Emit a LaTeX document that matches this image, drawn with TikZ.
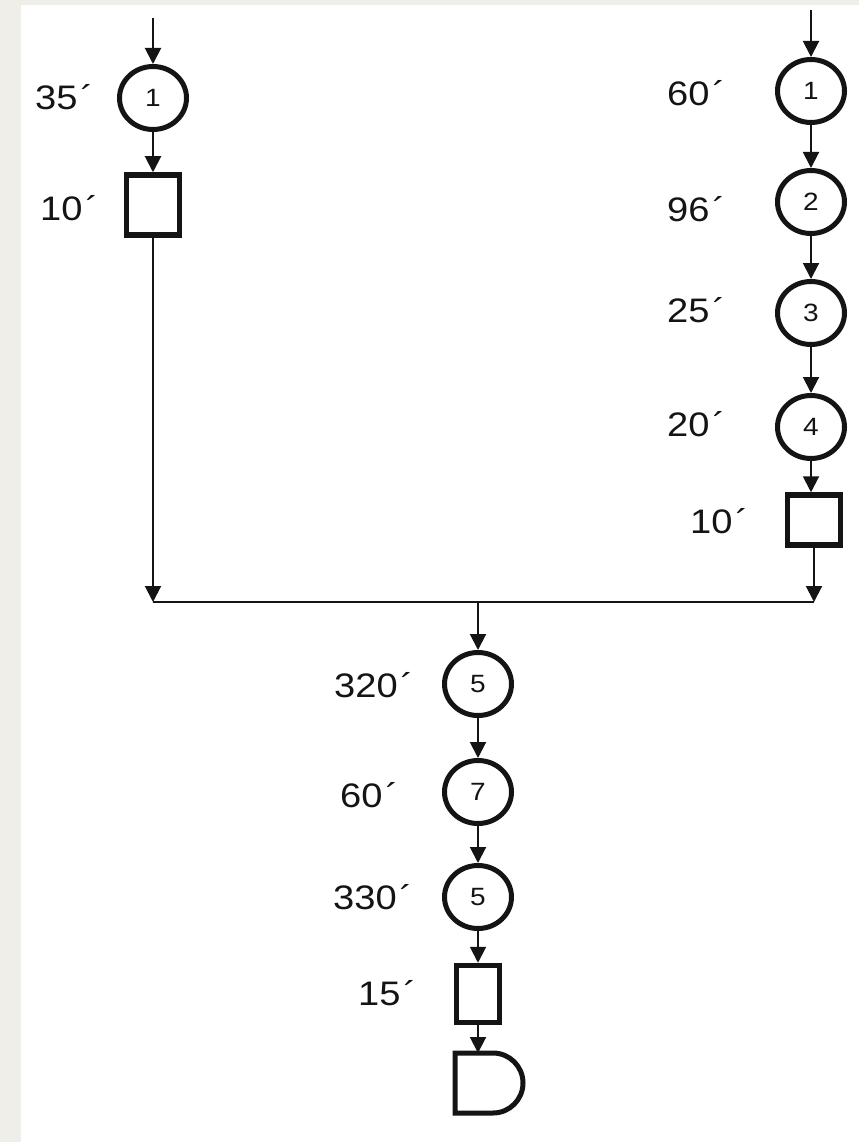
\documentclass[tikz,border=0pt]{standalone}
\usepackage{fontspec}
\setmainfont{Liberation Sans}[FakeStretch=1.12]
\usetikzlibrary{arrows.meta,shapes.geometric}
\definecolor{pagebg}{RGB}{239,238,232}
\definecolor{ink}{RGB}{20,20,20}
\begin{document}
\begin{tikzpicture}[x=1pt,y=-1pt,
  op/.style={ellipse,draw=ink,line width=5pt,minimum width=67pt,minimum height=63pt,
    inner sep=0pt,text=ink,font=\fontsize{25}{27}\selectfont},
  box/.style={rectangle,draw=ink,line width=5.5pt,inner sep=0pt},
  lbl/.style={anchor=base west,inner sep=0pt,text=ink,font=\fontsize{34}{38}\selectfont},
  flow/.style={draw=ink,line width=2pt,-{Triangle[width=16pt,length=16pt]}},
  joinline/.style={draw=ink,line width=2pt}]
  % page background
  \fill[pagebg] (0,0) rectangle (859,1142);
  \fill[white] (21,5) rectangle (859,1142);
  \useasboundingbox (0,0) rectangle (859,1142);

  % left branch
  \coordinate (Ltop) at (153,18);
  \node[op] (L1) at (153,98) {1};
  \node[box,minimum width=53pt,minimum height=60pt] (Lb) at (153,205) {};
  \node[lbl] (tL1) at (35,110) {35\kern3pt´};
  \node[lbl] (tLb) at (40,220) {10\kern3pt´};

  % right branch
  \coordinate (Rtop) at (811,10);
  \node[op] (R1) at (811,91) {1};
  \node[op] (R2) at (811,202) {2};
  \node[op] (R3) at (811,313) {3};
  \node[op] (R4) at (811,427) {4};
  \node[box,minimum width=53pt,minimum height=50pt] (Rb) at (814,520) {};
  \node[lbl] (tR1) at (667,106) {60\kern3pt´};
  \node[lbl] (tR2) at (667,221) {96\kern3pt´};
  \node[lbl] (tR3) at (667,322) {25\kern3pt´};
  \node[lbl] (tR4) at (667,436) {20\kern3pt´};
  \node[lbl] (tRb) at (690,533) {10\kern3pt´};

  % junction
  \coordinate (JL) at (153,602);
  \coordinate (JR) at (814,602);
  \coordinate (JC) at (478,602);

  % common branch
  \node[op] (C1) at (478,684) {5};
  \node[op] (C2) at (478,792) {7};
  \node[op] (C3) at (478,897) {5};
  \node[box,minimum width=43pt,minimum height=57pt] (Cb) at (478,994) {};
  \node[minimum width=68pt,minimum height=60pt,inner sep=0pt,outer sep=0pt] (D) at (489,1083) {};
  \draw[draw=ink,line width=5pt,line join=miter] (D.north west) -- ++(38,0)
    arc[start angle=90,end angle=-90,radius=30pt] -- (D.south west) -- cycle;
  \node[lbl] (tC1) at (334,697) {320\kern3pt´};
  \node[lbl] (tC2) at (340,807) {60\kern3pt´};
  \node[lbl] (tC3) at (333,909) {330\kern3pt´};
  \node[lbl] (tCb) at (358,1005) {15\kern3pt´};

  % connectors
  \draw[flow] (Ltop) -- (L1.north);
  \draw[flow] (L1.south) -- (Lb.north);
  \draw[flow] (Lb.south) -- (JL);

  \draw[flow] (Rtop) -- (R1.north);
  \draw[flow] (R1.south) -- (R2.north);
  \draw[flow] (R2.south) -- (R3.north);
  \draw[flow] (R3.south) -- (R4.north);
  \draw[flow] (R4.south) -- (R4.south |- Rb.north);
  \draw[flow] (Rb.south) -- (JR);

  \draw[joinline] (JL) -- (JR);

  \draw[flow] (JC) -- (C1.north);
  \draw[flow] (C1.south) -- (C2.north);
  \draw[flow] (C2.south) -- (C3.north);
  \draw[flow] (C3.south) -- (Cb.north);
  \draw[flow] (Cb.south) -- (Cb.south |- D.north);
\end{tikzpicture}
\end{document}
